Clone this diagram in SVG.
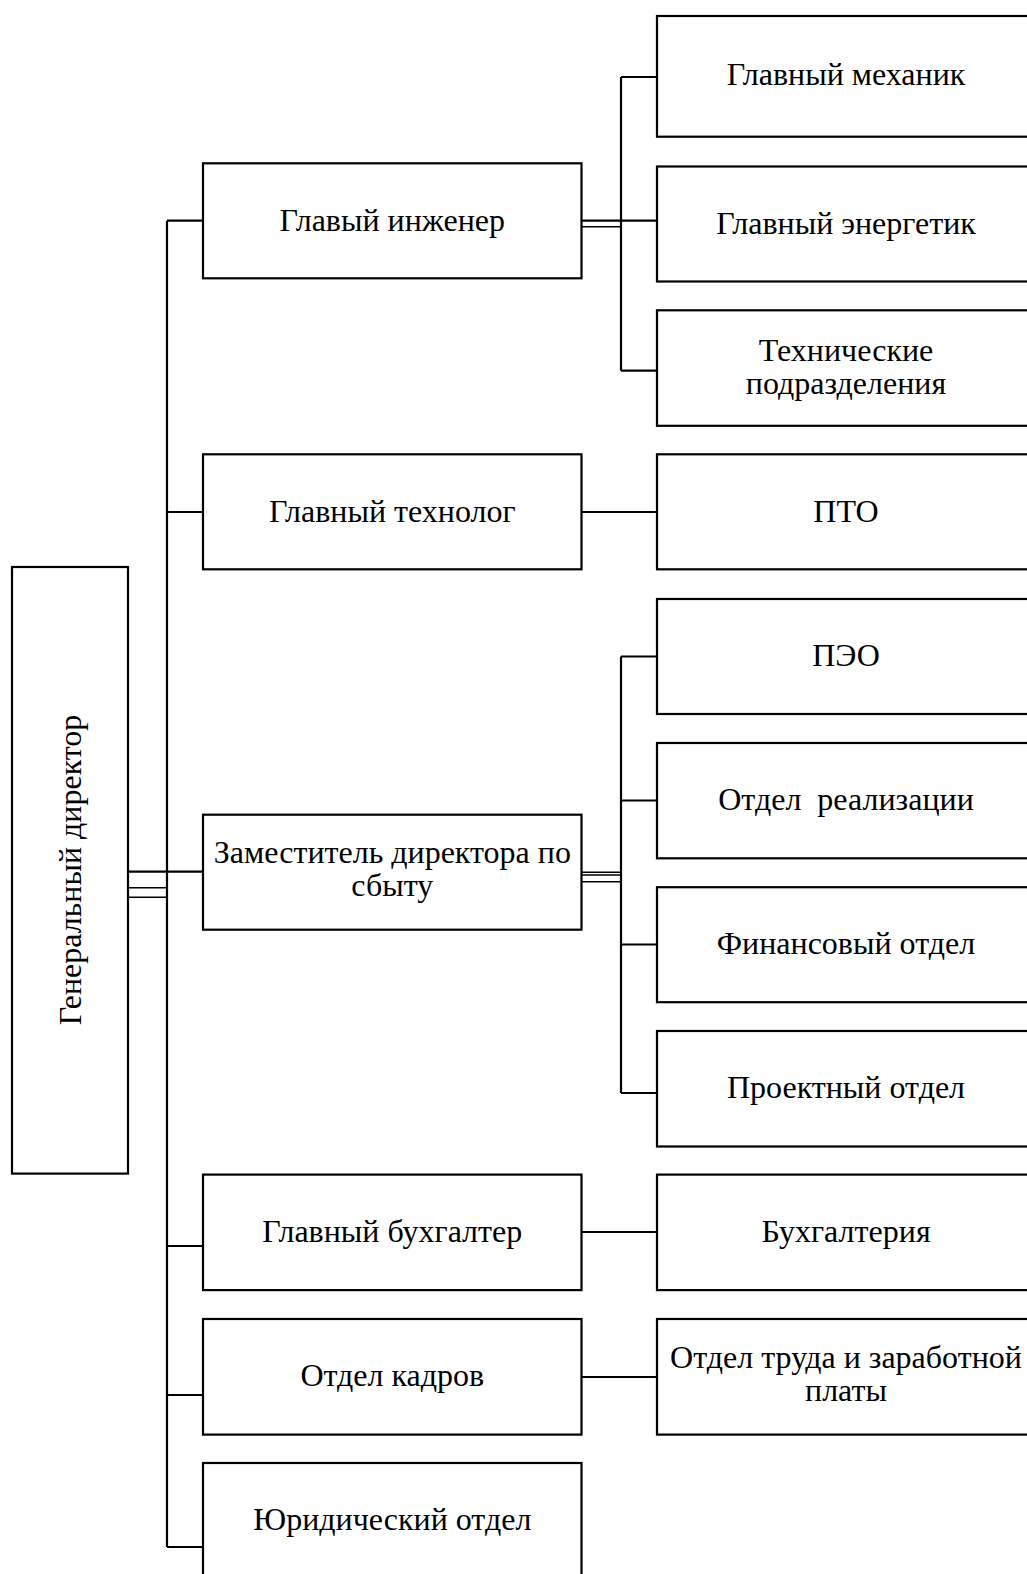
<svg xmlns="http://www.w3.org/2000/svg" width="1027" height="1574" viewBox="0 0 1027 1574">
<style>
.box{fill:#fff;stroke:#000;stroke-width:2.2}
.t{font-family:"Liberation Serif","Times New Roman",serif;font-size:32px;fill:#000;text-anchor:middle;white-space:pre}
.c{fill:none;stroke:#000;stroke-width:2.2}
.c2{fill:none;stroke:#000;stroke-width:1.6}
</style>
<rect width="1027" height="1574" fill="#fff"/>
<g id="connectors">
<path class="c" d="M167 220.7V1547"/>
<path class="c" d="M167 220.7H203M167 512H203M167 1246H203M167 1395H203M167 1547H203"/>
<path class="c" d="M128 871.7H203"/>
<path class="c2" d="M128 887.7H167M128 897.3H167"/>
<path class="c" d="M581.5 220.7H657"/>
<path class="c2" d="M581.5 226.7H621"/>
<path class="c" d="M621 77V370.7M621 77H657M621 370.7H657"/>
<path class="c" d="M581.5 512H657M581.5 1232H657M581.5 1377H657"/>
<path class="c2" d="M581.5 872.3H621M581.5 875H621M581.5 881.7H621"/>
<path class="c" d="M621 656.5V1093M621 656.5H657M621 800.5H657M621 944.5H657M621 1093H657"/>
</g>
<g id="gd"><rect class="box" x="12" y="567" width="116" height="606.6"/><text class="t" transform="translate(81,870) rotate(-90)">Генеральный директор</text></g>
<g id="eng"><rect class="box" x="203" y="163.3" width="378.5" height="115"/><text class="t" x="392.3" y="231">Главый инженер</text></g>
<g id="tech"><rect class="box" x="203" y="454.3" width="378.5" height="115"/><text class="t" x="392.3" y="522">Главный технолог</text></g>
<g id="zam"><rect class="box" x="203" y="814.7" width="378.5" height="115"/><text class="t" x="392.3" y="863">Заместитель директора по</text><text class="t" x="392.3" y="896">сбыту</text></g>
<g id="buh"><rect class="box" x="203" y="1174.6" width="378.5" height="115.5"/><text class="t" x="392.3" y="1242">Главный бухгалтер</text></g>
<g id="kadr"><rect class="box" x="203" y="1319" width="378.5" height="115.6"/><text class="t" x="392.3" y="1386">Отдел кадров</text></g>
<g id="yur"><rect class="box" x="203" y="1463" width="378.5" height="120"/><text class="t" x="392.3" y="1530">Юридический отдел</text></g>
<g id="mech"><rect class="box" x="657" y="16" width="380" height="120.7"/><text class="t" x="846" y="85">Главный механик</text></g>
<g id="energ"><rect class="box" x="657" y="166.5" width="380" height="115"/><text class="t" x="846" y="234">Главный энергетик</text></g>
<g id="techpod"><rect class="box" x="657" y="310.3" width="380" height="115.5"/><text class="t" x="846" y="361">Технические</text><text class="t" x="846" y="394">подразделения</text></g>
<g id="pto"><rect class="box" x="657" y="454.3" width="380" height="115"/><text class="t" x="846" y="522">ПТО</text></g>
<g id="peo"><rect class="box" x="657" y="599" width="380" height="115"/><text class="t" x="846" y="666">ПЭО</text></g>
<g id="real"><rect class="box" x="657" y="743" width="380" height="115.3"/><text class="t" x="846" y="810">Отдел  реализации</text></g>
<g id="fin"><rect class="box" x="657" y="887.2" width="380" height="115"/><text class="t" x="846" y="954">Финансовый отдел</text></g>
<g id="proj"><rect class="box" x="657" y="1031" width="380" height="115.5"/><text class="t" x="846" y="1098">Проектный отдел</text></g>
<g id="buhg"><rect class="box" x="657" y="1174.6" width="380" height="115.5"/><text class="t" x="846" y="1242">Бухгалтерия</text></g>
<g id="trud"><rect class="box" x="657" y="1319" width="380" height="115.6"/><text class="t" x="846" y="1368">Отдел труда и заработной</text><text class="t" x="846" y="1401">платы</text></g>
</svg>
